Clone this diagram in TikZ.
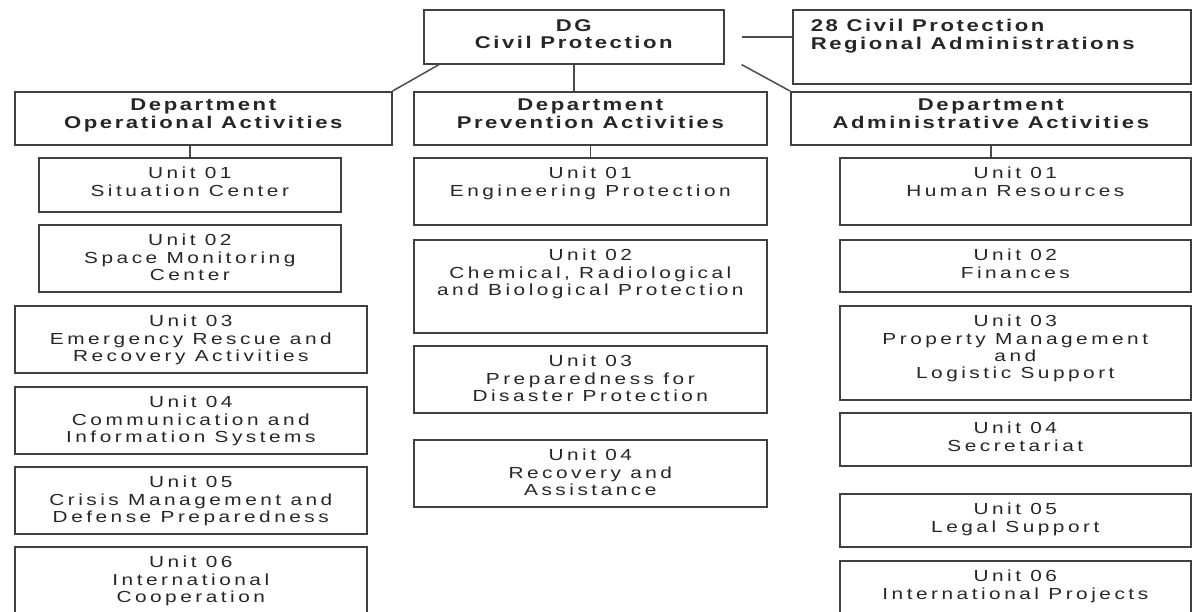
\documentclass[tikz,border=0pt]{standalone}
\usepackage{fontspec}
\setmainfont{Liberation Sans}[FakeStretch=1.3, LetterSpace=22]
\newfontfamily\headfont{Liberation Sans}[FakeStretch=1.3, LetterSpace=15]
\newcommand{\boxtext}[3]{\parbox[c][\dimexpr#2pt-2\dimexpr\pgfkeysvalueof{/pgf/inner ysep}\relax\relax][t]{#1pt}{\centering #3}}
\begin{document}
\begin{tikzpicture}[x=1pt,y=-1pt,
		unit/.style={draw=black!75, line width=1.6pt, inner xsep=0pt, inner ysep=9.5pt, anchor=north west, text=black!85, font={\fontsize{16}{17.3}\selectfont}},
		head/.style={unit, inner ysep=7pt, font={\headfont\bfseries\fontsize{17}{18.5}\selectfont}},
		top/.style={unit, font={\headfont\bfseries\fontsize{17}{17.5}\selectfont}},
		link/.style={draw=black!70, line width=1.5pt}]
			\useasboundingbox (0,0) rectangle (1192,612);
			% top level
			\node[top] (dg) at (423,9) {\boxtext{300}{54}{DG\\Civil Protection}};
			\node[top] (reg) at (792,9) {\parbox[c][55pt][t]{398pt}{\raggedright\leftskip=18pt\relax 28 Civil Protection\\Regional Administrations}};
			% departments
			\node[head] (dop) at (14,91) {\boxtext{377}{53}{Department\\Operational Activities}};
			\node[head] (dpr) at (413,91) {\boxtext{353}{53}{Department\\Prevention Activities}};
			\node[head] (dad) at (790,91) {\boxtext{400}{53}{Department\\Administrative Activities}};
			% units
			\foreach \n/\x/\w/\y/\h/\txt in {1/38/302/157/54/{Unit 01\\Situation Center},
					2/38/302/224/67/{Unit 02\\Space Monitoring\\Center},
					3/14/352/305/67/{Unit 03\\Emergency Rescue and\\Recovery Activities},
					4/14/352/386/67/{Unit 04\\Communication and\\Information Systems},
					5/14/352/466/67/{Unit 05\\Crisis Management and\\Defense Preparedness},
					6/14/352/546/80/{Unit 06\\International\\Cooperation}} {
					\node[unit] (op\n) at (\x,\y) {\boxtext{\w}{\h}{\txt}};
				}
			\foreach \n/\y/\h/\txt in {1/157/67/{Unit 01\\Engineering Protection},
					2/239/93/{Unit 02\\Chemical, Radiological\\and Biological Protection},
					3/345/67/{Unit 03\\Preparedness for\\Disaster Protection},
					4/439/67/{Unit 04\\Recovery and\\Assistance}} {
					\node[unit] (pr\n) at (413,\y) {\boxtext{353}{\h}{\txt}};
				}
			\foreach \n/\y/\h/\txt in {1/157/67/{Unit 01\\Human Resources},
					2/239/52/{Unit 02\\Finances},
					3/305/94/{Unit 03\\Property Management\\and\\Logistic Support},
					4/412/53/{Unit 04\\Secretariat},
					5/493/53/{Unit 05\\Legal Support},
					6/560/80/{Unit 06\\International Projects}} {
					\node[unit] (ad\n) at (839,\y) {\boxtext{351}{\h}{\txt}};
				}
			% connectors
			\draw[link] ([xshift=16pt]dg.south west) -- (dop.north east);
			\draw[link] (dg.south) -- (dg.south |- dpr.north);
			\draw[link] ([xshift=17pt]dg.south east) -- (dad.north west);
			\draw[link] ([xshift=17pt]dg.east) -- (dg.east -| reg.west);
			\draw[link] (op1.north) -- (op1.north |- dop.south);
			\draw[link] (pr1.north) -- (pr1.north |- dpr.south);
			\draw[link] (dad.south) -- (dad.south |- ad1.north);
		\end{tikzpicture}
\end{document}
